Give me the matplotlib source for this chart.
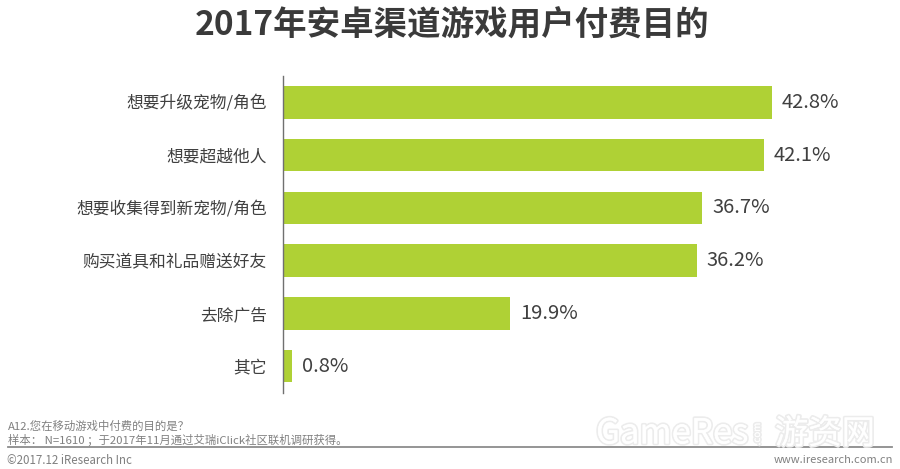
import matplotlib
matplotlib.use("Agg")
import matplotlib.pyplot as plt
import matplotlib.patheffects as pe

plt.rcParams['font.family'] = ['Noto Sans CJK SC', 'DejaVu Sans']

categories = ['想要升级宠物/角色', '想要超越他人', '想要收集得到新宠物/角色',
              '购买道具和礼品赠送好友', '去除广告', '其它']
values = [42.8, 42.1, 36.7, 36.2, 19.9, 0.8]

W, H = 900, 469
fig = plt.figure(figsize=(W / 100, H / 100), dpi=100)

# plot area in pixels: x from 283, y from 76 to 392.5
ax = fig.add_axes([283 / W, 1 - 392.5 / H, (880 - 283) / W, 316.5 / H])
ax.barh(range(len(values)), values, height=0.62, color='#afd135', edgecolor='none')
ax.set_xlim(0, (880 - 283) / 11.43)
ax.set_ylim(len(values) - 0.5, -0.5)
ax.set_yticks(range(len(values)))
ax.set_yticklabels(categories, fontsize=12.05, color='#404040')
ax.tick_params(axis='y', length=0, pad=11.5)
ax.set_xticks([])
for s in ['top', 'right', 'bottom']:
    ax.spines[s].set_visible(False)
ax.spines['left'].set_color('#707070')
ax.spines['left'].set_linewidth(1)

for i, v in enumerate(values):
    ax.text(v + 0.85, i, '%.1f%%' % v, va='center', ha='left', fontsize=14.5, color='#404040')

fig.text(452 / W, 1 - 26 / H, '2017年安卓渠道游戏用户付费目的', ha='center', va='center',
         fontsize=24.1, fontweight='bold', color='#3a3a3a')

fig.text(8 / W, 1 - 426 / H, 'A12.您在移动游戏中付费的目的是？', ha='left', va='center',
         fontsize=8.2, color='#808080')
fig.text(8 / W, 1 - 440 / H, '样本： N=1610 ；于2017年11月通过艾瑞iClick社区联机调研获得。', ha='left', va='center',
         fontsize=8.2, color='#808080')
fig.add_artist(plt.Line2D([8 / W, 892 / W], [1 - 447 / H, 1 - 447 / H], color='#8c8c8c', lw=1.3))
fig.text(7 / W, 1 - 460 / H, '©2017.12 iResearch Inc', ha='left', va='center',
         fontsize=8.3, color='#808080')
fig.text(893 / W, 1 - 460 / H, 'www.iresearch.com.cn', ha='right', va='center',
         fontsize=8, color='#808080')

# watermark
shadow = [pe.withStroke(linewidth=2.5, foreground='#ececec'), pe.Normal()]
fig.text(596 / W, 1 - 434 / H, 'GameRes', ha='left', va='center', fontsize=25,
         color='white', path_effects=shadow, zorder=5)
fig.text(757 / W, 1 - 434 / H, '.com', ha='center', va='center', fontsize=7, rotation=90,
         color='white', path_effects=shadow, zorder=5)
fig.text(775 / W, 1 - 434 / H, '游资网', ha='left', va='center', fontsize=24,
         color='white', path_effects=shadow, zorder=5)

fig.savefig('out.png', dpi=100)
